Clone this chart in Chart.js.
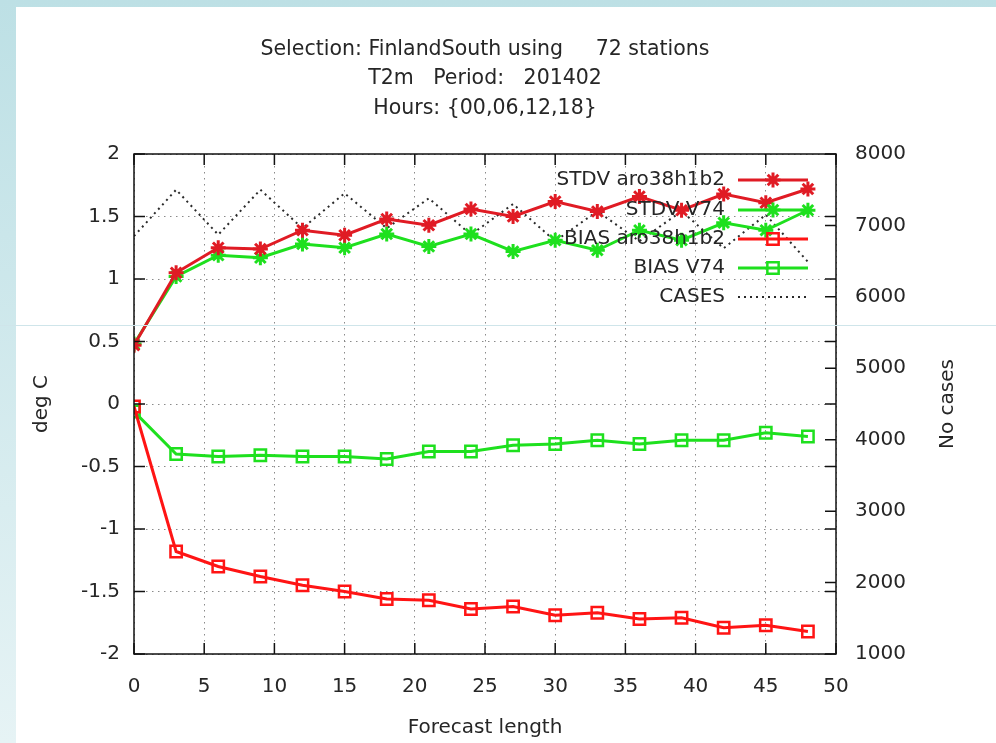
<!DOCTYPE html>
<html>
<head>
<meta charset="utf-8">
<script src="https://cdn.jsdelivr.net/npm/chart.js@4"></script>
<style>
  html, body { margin: 0; padding: 0; }
  body {
    width: 996px; height: 743px; overflow: hidden; position: relative;
    background: linear-gradient(to bottom, #bde0e5, #e6f3f5);
  }
  #wrap { position: absolute; left: 16px; top: 7px; width: 980px; height: 736px; background: #fff; }
  #seam { position: absolute; left: 0; top: 325px; width: 996px; height: 1px; background: #cfe5ea; }
</style>
</head>
<body>
<div id="wrap"><canvas id="chart" width="980" height="736"></canvas></div>
<div id="seam"></div>
<script>
// forecast lengths (h)
const leadTimes = [0, 3, 6, 9, 12, 15, 18, 21, 24, 27, 30, 33, 36, 39, 42, 45, 48];

// deg C
const stdvAro = [0.47, 1.05, 1.25, 1.24, 1.39, 1.35, 1.48, 1.43, 1.56, 1.50, 1.62, 1.54, 1.66, 1.55, 1.68, 1.61, 1.72];
const stdvV74 = [0.48, 1.02, 1.19, 1.17, 1.28, 1.25, 1.36, 1.26, 1.36, 1.22, 1.31, 1.23, 1.39, 1.31, 1.45, 1.39, 1.55];
const biasAro = [-0.02, -1.18, -1.30, -1.38, -1.45, -1.50, -1.56, -1.57, -1.64, -1.62, -1.69, -1.67, -1.72, -1.71, -1.79, -1.77, -1.82];
const biasV74 = [-0.06, -0.40, -0.42, -0.41, -0.42, -0.42, -0.44, -0.38, -0.38, -0.33, -0.32, -0.29, -0.32, -0.29, -0.29, -0.23, -0.26];

// number of cases (right axis)
const cases = [6850, 7500, 6870, 7500, 6960, 7450, 6960, 7380, 6870, 7300, 6780, 7200, 6780, 7200, 6680, 7150, 6490];

const titleLines = ['Selection: FinlandSouth using     72 stations', 'T2m   Period:   201402', 'Hours: {00,06,12,18}'];
const seriesNames = ['STDV aro38h1b2', 'STDV V74', 'BIAS aro38h1b2', 'BIAS V74', 'CASES'];

const FONT = '"DejaVu Sans", sans-serif';
const TXT = '#262626';
const RED1 = '#e01b24';
const RED2 = '#ff1414';
const GREEN = '#1ee01e';

function pts(arr) {
    return leadTimes.map((x, i) => ({ x: x, y: arr[i] }));
}

function lineSet(label, arr, color, style) {
    const open = style === 'rect';
    return {
        label: label,
        data: pts(arr),
        yAxisID: 'y',
        borderColor: color,
        backgroundColor: color,
        borderWidth: 3,
        pointStyle: style,
        pointRadius: open ? 8 : 7.5,
        pointBorderWidth: open ? 2.5 : 3,
        pointBorderColor: color,
        pointBackgroundColor: open ? 'rgba(255,255,255,0)' : color,
        tension: 0
    };
}

// gnuplot-ish frame, inner ticks, title, key and right axis label
const gnuFrame = {
    id: 'gnuFrame',
    afterDatasetsDraw(chart) {
        const ctx = chart.ctx;
        const a = chart.chartArea;
        const sx = chart.scales.x, sy = chart.scales.y, sy2 = chart.scales.y2;
        const tl = 11;

        ctx.save();
        ctx.strokeStyle = '#111';
        ctx.lineWidth = 1.5;
        ctx.strokeRect(a.left, a.top, a.right - a.left, a.bottom - a.top);

        ctx.beginPath();
        sx.ticks.forEach(t => {
            const px = sx.getPixelForValue(t.value);
            ctx.moveTo(px, a.bottom); ctx.lineTo(px, a.bottom - tl);
            ctx.moveTo(px, a.top); ctx.lineTo(px, a.top + tl);
        });
        sy.ticks.forEach(t => {
            const py = sy.getPixelForValue(t.value);
            ctx.moveTo(a.left, py); ctx.lineTo(a.left + tl, py);
            ctx.moveTo(a.right, py); ctx.lineTo(a.right - tl, py);
        });
        sy2.ticks.forEach(t => {
            const py = sy2.getPixelForValue(t.value);
            ctx.moveTo(a.right, py); ctx.lineTo(a.right - tl, py);
        });
        ctx.stroke();

        // key
        ctx.font = '20px ' + FONT;
        ctx.textAlign = 'right';
        ctx.textBaseline = 'middle';
        const keyY = [173, 203, 232, 261, 290];
        const textRight = 709, s0 = 722, s1 = 792, sm = 757;
        chart.data.datasets.forEach((ds, i) => {
            const y = keyY[i];
            ctx.fillStyle = TXT;
            ctx.fillText(ds.label, textRight, y);
            ctx.save();
            ctx.strokeStyle = ds.borderColor;
            ctx.lineWidth = ds.borderWidth;
            ctx.setLineDash(ds.borderDash || []);
            ctx.beginPath();
            ctx.moveTo(s0, y); ctx.lineTo(s1, y);
            ctx.stroke();
            ctx.setLineDash([]);
            if (ds.pointRadius > 0) {
                ctx.lineWidth = ds.pointBorderWidth;
                ctx.fillStyle = ds.pointBackgroundColor;
                Chart.helpers.drawPoint(ctx, {
                    pointStyle: ds.pointStyle, radius: ds.pointRadius,
                    rotation: 0, borderWidth: ds.pointBorderWidth
                }, sm, y);
            }
            ctx.restore();
        });

        // title, centred on the plot
        ctx.textAlign = 'center';
        ctx.fillStyle = TXT;
        ctx.font = '20.5px ' + FONT;
        const cx = (a.left + a.right) / 2;
        [43, 72, 102].forEach((y, i) => ctx.fillText(titleLines[i], cx, y));

        // right axis label, reads bottom to top
        ctx.font = '20px ' + FONT;
        ctx.translate(932, (a.top + a.bottom) / 2);
        ctx.rotate(-Math.PI / 2);
        ctx.fillText('No cases', 0, 0);
        ctx.restore();
    }
};

new Chart(document.getElementById('chart').getContext('2d'), {
    type: 'line',
    data: {
        datasets: [
            lineSet(seriesNames[0], stdvAro, RED1, 'star'),
            lineSet(seriesNames[1], stdvV74, GREEN, 'star'),
            lineSet(seriesNames[2], biasAro, RED2, 'rect'),
            lineSet(seriesNames[3], biasV74, GREEN, 'rect'),
            {
                label: seriesNames[4],
                data: pts(cases),
                yAxisID: 'y2',
                borderColor: '#2a2a2a',
                borderWidth: 2,
                borderDash: [2, 4],
                pointRadius: 0,
                tension: 0
            }
        ]
    },
    options: {
        responsive: false,
        animation: false,
        devicePixelRatio: 1,
        layout: { padding: { top: 147, left: 0, right: 0, bottom: 0 } },
        plugins: {
            legend: { display: false },
            title: { display: false },
            tooltip: { enabled: false }
        },
        scales: {
            x: {
                type: 'linear',
                min: 0,
                max: 50,
                ticks: { stepSize: 5, padding: 21, color: TXT, font: { family: FONT, size: 20 } },
                grid: { color: '#8a8a8a', lineWidth: 1, drawTicks: false },
                border: { display: false, dash: [1.5, 4.5] },
                title: { display: true, text: 'Forecast length', color: TXT, font: { family: FONT, size: 20 }, padding: { top: 0, bottom: 3 } },
                afterFit: s => { s.height = 89; }
            },
            y: {
                position: 'left',
                min: -2,
                max: 2,
                ticks: {
                    stepSize: 0.5, padding: 14, color: TXT, font: { family: FONT, size: 20 },
                    callback: v => String(Number(v.toFixed(1)))
                },
                grid: { color: '#8a8a8a', lineWidth: 1, drawTicks: false },
                border: { display: false, dash: [1.5, 4.5] },
                title: { display: true, text: 'deg C', color: TXT, font: { family: FONT, size: 20 }, padding: { top: 14, bottom: 0 } },
                afterFit: s => { s.width = 118; }
            },
            y2: {
                position: 'right',
                min: 1000,
                max: 8000,
                ticks: {
                    stepSize: 1000, padding: 19, color: TXT, font: { family: FONT, size: 20 },
                    callback: v => String(v)
                },
                grid: { drawOnChartArea: false, drawTicks: false },
                border: { display: false },
                afterFit: s => { s.width = 160; }
            }
        }
    },
    plugins: [gnuFrame]
});
</script>
</body>
</html>
